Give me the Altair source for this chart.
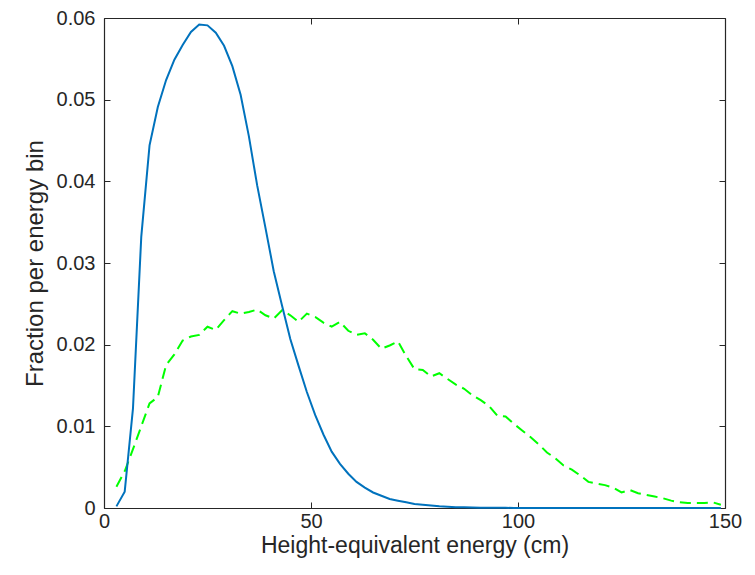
import altair as alt
import pandas as pd

energy_x = [3, 5, 7, 9, 11, 13, 15, 17, 19, 21, 23, 25, 27, 29, 31, 33, 35, 37, 39, 41,
            43, 45, 47, 49, 51, 53, 55, 57, 59, 61, 63, 65, 67, 69, 71, 73, 75, 77, 79, 81,
            83, 85, 87, 89, 91, 93, 95, 97, 99, 101, 103, 105, 107, 109, 111, 113, 115, 117, 119, 121,
            123, 125, 127, 129, 131, 133, 135, 137, 139, 141, 143, 145, 147, 149]

blue_vals = [0.0002, 0.0020, 0.0122, 0.0332, 0.0444, 0.0491, 0.0524, 0.0549, 0.0567, 0.0583,
             0.0592, 0.0591, 0.0582, 0.0566, 0.0541, 0.0506, 0.0455, 0.0395, 0.0343, 0.0290,
             0.0248, 0.0207, 0.0174, 0.0142, 0.0114, 0.0090, 0.0069, 0.0054, 0.0042, 0.0032,
             0.0025, 0.0019, 0.0015, 0.0011, 0.0009, 0.0007, 0.0005, 0.0004, 0.0003, 0.0002,
             0.00015, 0.0001, 0.00008, 0.00006, 0.00004, 0.00003, 0.00002, 0.00002, 0.00001, 0.00001,
             0.00001, 0.0, 0.0, 0.0, 0.0, 0.0, 0.0, 0.0, 0.0, 0.0,
             0.0, 0.0, 0.0, 0.0, 0.0, 0.0, 0.0, 0.0, 0.0, 0.0,
             0.0, 0.0, 0.0, 0.0]

green_vals = [0.0026, 0.0045, 0.0072, 0.0100, 0.0128, 0.0136, 0.0175, 0.0188, 0.0205, 0.0210,
              0.0212, 0.0222, 0.0218, 0.0230, 0.0241, 0.0238, 0.0240, 0.0243, 0.0236, 0.0232,
              0.0242, 0.0236, 0.0228, 0.0238, 0.0234, 0.0227, 0.0222, 0.0228, 0.0217, 0.0212,
              0.0214, 0.0206, 0.0195, 0.0199, 0.0204, 0.0186, 0.0170, 0.0169, 0.0161, 0.0165,
              0.0158, 0.0151, 0.0146, 0.0138, 0.0132, 0.0125, 0.0113, 0.0112, 0.0103, 0.0095,
              0.0087, 0.0078, 0.0068, 0.0061, 0.0052, 0.0047, 0.0040, 0.0032, 0.0030, 0.0028,
              0.0025, 0.0019, 0.0022, 0.0018, 0.0016, 0.0014, 0.0012, 0.0009, 0.0007, 0.0006,
              0.0006, 0.0006, 0.0007, 0.0004]

x_ticks = [0, 50, 100, 150]
y_ticks = [0, 0.01, 0.02, 0.03, 0.04, 0.05, 0.06]

df = pd.DataFrame({"x": energy_x, "blue": blue_vals, "green": green_vals})

AX = "#262626"
FONT = "Liberation Sans"
xscale = alt.Scale(domain=[0, 150], nice=False, zero=False)
yscale = alt.Scale(domain=[0, 0.06], nice=False, zero=False)


def tick_axis(orient, vals, domain):
    # inward-pointing ticks (negative size given as an expression)
    kw = dict(orient=orient, values=vals, title="", labels=False, grid=False,
              domain=domain, ticks=True, tickSize={"expr": "-6"},
              tickColor=AX, tickWidth=1)
    if domain:
        kw.update(domainColor=AX, domainWidth=1.2)
    return alt.Axis(**kw)


# Labeled axes (bottom/left) with domain lines
blue = alt.Chart(df).mark_line(color="#0072BD", strokeWidth=2).encode(
    x=alt.X("x:Q", scale=xscale, axis=alt.Axis(
        orient="bottom", values=x_ticks, title="Height-equivalent energy (cm)",
        domain=True, domainColor=AX, domainWidth=1.2, ticks=False, tickSize=0, grid=False,
        labelFontSize=20, labelFont=FONT, labelColor=AX, labelBaseline="alphabetic",
        labelPadding=19, labelFlush=False,
        titleFontSize=23, titleFont=FONT, titleFontWeight="normal", titleColor=AX,
        titleBaseline="alphabetic", titleY=44)),
    y=alt.Y("blue:Q", scale=yscale, axis=alt.Axis(
        orient="left", values=y_ticks, title="Fraction per energy bin", format="~g",
        domain=True, domainColor=AX, domainWidth=1.2, ticks=False, tickSize=0, grid=False,
        labelFontSize=20, labelFont=FONT, labelColor=AX, labelPadding=9, labelFlush=False,
        titleFontSize=24, titleFont=FONT, titleFontWeight="normal", titleColor=AX,
        titleBaseline="alphabetic", titleX=-62, titleY=245)),
)

# Inward ticks bottom/left
green = alt.Chart(df).mark_line(color="#00FF00", strokeWidth=2, strokeDash=[11, 6]).encode(
    x=alt.X("x:Q", scale=xscale, axis=tick_axis("bottom", x_ticks, False)),
    y=alt.Y("green:Q", scale=yscale, axis=tick_axis("left", y_ticks, False)),
)

# Top/right frame lines with inward ticks (invisible carrier layer)
carrier = alt.Chart(df).mark_line(strokeOpacity=0).encode(
    x=alt.X("x:Q", scale=xscale, axis=tick_axis("top", x_ticks, True)),
    y=alt.Y("green:Q", scale=yscale, axis=tick_axis("right", y_ticks, True)),
)

chart = alt.layer(carrier, green, blue).resolve_axis(
    x="independent", y="independent"
).properties(
    width=621, height=490,
    background="white",
    autosize=alt.AutoSizeParams(type="none"),
    padding={"left": 96, "top": 10, "right": 22, "bottom": 57},
).configure_view(
    strokeWidth=0
)

chart.save("out.html", embed_options={"renderer": "svg", "actions": False})
